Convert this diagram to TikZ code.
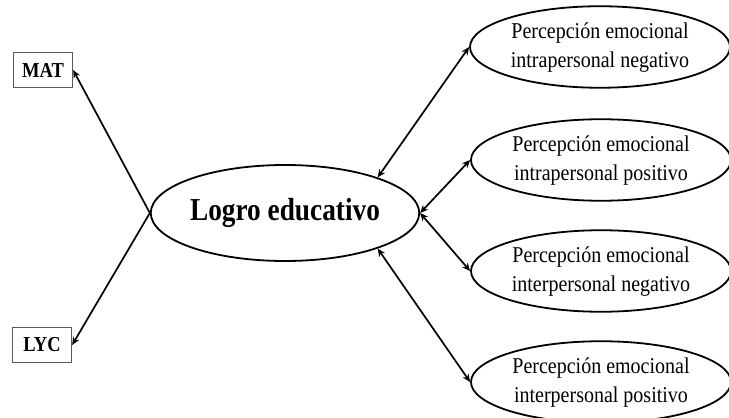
\documentclass[tikz,border=0pt]{standalone}
\usepackage{fontspec}
\setmainfont{Liberation Serif}
\usetikzlibrary{shapes.geometric,arrows.meta}
\begin{document}
\begin{tikzpicture}[x=1pt,y=1pt,
  bigell/.style={draw,ellipse,line width=1.8pt,minimum width=264pt,minimum height=96pt,inner sep=0pt},
  smallell/.style={draw,ellipse,line width=1.8pt,minimum width=260pt,minimum height=78pt,inner sep=0pt},
  varbox/.style={draw=black!65,line width=1.3pt,minimum width=59pt,minimum height=35pt,inner sep=0pt},
  conn/.style={line width=1.7pt,-{Stealth[length=8pt,width=7pt]}},
  biconn/.style={line width=1.7pt,{Stealth[length=8pt,width=7pt]}-{Stealth[length=8pt,width=7pt]}}]
\useasboundingbox (0,0) rectangle (729,418);
\newcommand{\smalltxt}[2]{\raisebox{-2pt}{\scalebox{1}[1.13]{\fontsize{20}{25.5}\selectfont\begin{tabular}{@{}c@{}}#1\\#2\end{tabular}}}}
\node[bigell] (L) at (285,205) {\scalebox{1}[1.17]{\fontsize{27.3}{30}\selectfont\bfseries Logro educativo}};
\node[varbox] (MAT) at (43,348) {\scalebox{1}[1.15]{\fontsize{18.5}{20}\selectfont\bfseries MAT}};
\node[varbox] (LYC) at (42,73) {\scalebox{1}[1.15]{\fontsize{18.5}{20}\selectfont\bfseries LYC}};
\node[smallell] (E1) at (600,371) {\smalltxt{Percepción emocional}{intrapersonal negativo}};
\node[smallell] (E2) at (601,258) {\smalltxt{Percepción emocional}{intrapersonal positivo}};
\node[smallell] (E3) at (601,147) {\smalltxt{Percepción emocional}{interpersonal negativo}};
\node[smallell] (E4) at (601,36) {\smalltxt{Percepción emocional}{interpersonal positivo}};
\draw[conn] (L.west) -- (MAT.east);
\draw[conn] (L.west) -- (LYC.east);
\draw[biconn] (L.21) -- (E1.west);
\draw[biconn] (L.east) -- (E2.west);
\draw[biconn] (L.east) -- (E3.west);
\draw[biconn] (L.-21) -- (E4.west);
\end{tikzpicture}
\end{document}
